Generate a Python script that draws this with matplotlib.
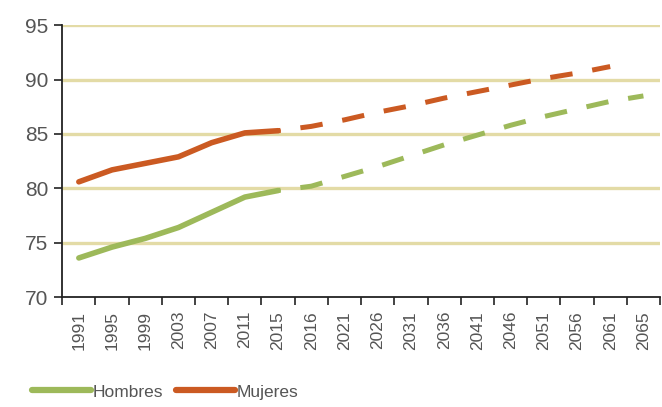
import matplotlib
matplotlib.use("Agg")
import matplotlib.pyplot as plt
import numpy as np

# 数据 (esperanza de vida)
years = ['1991', '1995', '1999', '2003', '2007', '2011', '2015', '2016', '2021',
         '2026', '2031', '2036', '2041', '2046', '2051', '2056', '2061', '2065']

# tramo observado (1991-2015)
hombres_obs = [73.6, 74.6, 75.4, 76.4, 77.8, 79.2, 79.8]
mujeres_obs = [80.6, 81.7, 82.3, 82.9, 84.2, 85.1, 85.3]

# tramo proyectado (2015-2065)
hombres_proj = [79.8, 80.2, 81.1, 82.0, 83.0, 84.0, 84.9, 85.8, 86.6, 87.3, 88.0, 88.5]
mujeres_proj = [85.3, 85.7, 86.3, 87.0, 87.6, 88.3, 88.9, 89.5, 90.1, 90.6, 91.2]

green = '#9DB95A'
orange = '#CB5A22'
grid_col = '#E3DBA6'
text_col = '#555555'

plt.rcParams['font.family'] = ['Liberation Sans', 'DejaVu Sans']

fig = plt.figure(figsize=(6.62, 4.07), dpi=100)
ax = fig.add_axes([0.094, 0.27, 0.903, 0.668])

x = np.arange(len(years))
n_obs = len(hombres_obs)

# líneas de referencia horizontales
for yv in [75, 80, 85, 90, 95]:
    ax.axhline(yv, color=grid_col, linewidth=2.4, zorder=1)

ax.plot(x[:n_obs], hombres_obs, color=green, linewidth=4, solid_capstyle='round',
        zorder=3, label='Hombres')
ax.plot(x[:n_obs], mujeres_obs, color=orange, linewidth=4, solid_capstyle='round',
        zorder=3, label='Mujeres')

n0 = n_obs - 1
ax.plot(x[n0:n0 + len(hombres_proj)], hombres_proj, color=green, linewidth=3.6,
        linestyle=(4.0, (4.5, 4.0)), zorder=3)
ax.plot(x[n0:n0 + len(mujeres_proj)], mujeres_proj, color=orange, linewidth=3.6,
        linestyle=(4.0, (4.5, 4.0)), zorder=3)

ax.set_xlim(-0.5, len(years) - 0.5)
ax.set_ylim(70, 95)
ax.set_yticks([70, 75, 80, 85, 90, 95])
ax.tick_params(axis='y', labelsize=15, colors=text_col, length=6, width=1.2,
               direction='out', pad=4)
ax.tick_params(axis='y', color='#222222')

# marcas entre categorías, etiquetas centradas
ax.set_xticks(x)
ax.set_xticklabels(years, rotation=90, fontsize=12.5, color=text_col)
ax.set_xticks(np.arange(len(years) + 1) - 0.5, minor=True)
ax.tick_params(axis='x', which='major', length=0, pad=10)
ax.tick_params(axis='x', which='minor', length=6, width=1.2, color='#222222',
               direction='out')

for s in ['top', 'right']:
    ax.spines[s].set_visible(False)
ax.spines['left'].set_color('#222222')
ax.spines['bottom'].set_color('#222222')
ax.spines['left'].set_linewidth(1.3)
ax.spines['bottom'].set_linewidth(1.3)

leg = fig.legend(loc='lower left', bbox_to_anchor=(0.025, -0.02), ncol=2,
                 frameon=False, fontsize=12.5, handlelength=3.4,
                 handletextpad=0.1, columnspacing=0.7)
for t in leg.get_texts():
    t.set_color(text_col)
for h in leg.legend_handles:
    h.set_linewidth(4.5)

plt.savefig('out.png', dpi=100)
